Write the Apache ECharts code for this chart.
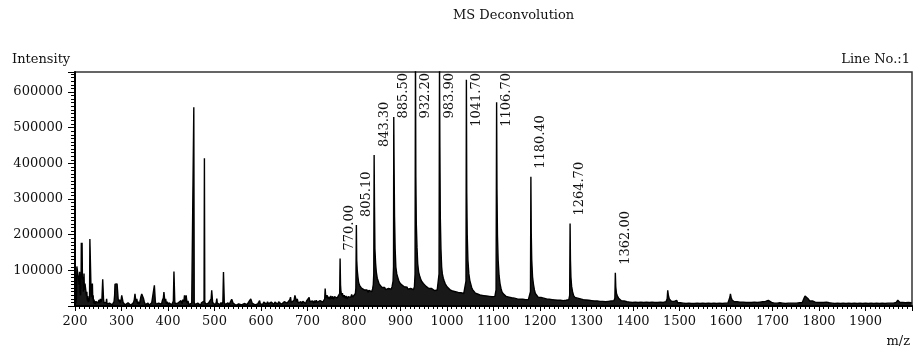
<!DOCTYPE html>
<html lang="en">

<head>
    <title>MS Deconvolution</title>
    <meta charset="UTF-8">
    <script src="https://cdn.jsdelivr.net/npm/echarts@6.0.0/dist/echarts.min.js"></script>
    <style>
        html, body { margin: 0; padding: 0; background: #fff; }
        #spectrum { width: 916px; height: 354px; }
    </style>
</head>

<body>
    <div id="spectrum"></div>

    <script>
        // profile spectrum, [m/z, intensity]
        var lowMassProfile = [
            [200, 5000], [200.8, 44000], [201.6, 8000], [203, 20000], [204, 111000], [205, 106000], [206, 111000],
            [207, 108000], [208, 111000], [209, 60000], [210, 96000], [211, 40000], [212, 30000], [213, 60000],
            [213.6, 177000], [214.4, 170000], [215.2, 177000], [216, 80000], [217, 72000], [218, 40000], [219.4, 91000],
            [220.2, 45000], [221.5, 63000], [222.5, 58000], [223.7, 64000], [224.5, 30000], [225.5, 40000], [226.5, 15000],
            [227.5, 28000], [228.5, 10000], [229.5, 22000], [230.5, 12000], [231.3, 30000], [232, 188000], [232.8, 186000],
            [233.8, 189000], [234.6, 40000], [235.5, 25000], [236.6, 48000], [237.4, 63000], [238.2, 20000], [239, 30000],
            [240, 8000], [241, 18000], [242, 6000], [243, 14000], [244, 5000], [245.5, 12000], [247, 7000], [248.5, 16000],
            [250, 9000], [251.5, 17000], [253, 8000], [254.5, 20000], [256, 11000], [258, 22000], [259.6, 75000],
            [260.6, 76000], [261.4, 18000], [262.5, 9000], [264, 14000], [265.5, 4000], [267, 10000], [268, 20000],
            [269, 5000], [270.5, 9000], [272, 3000], [274, 8000], [276, 4000], [278, 10000], [280, 3000], [282, 7000],
            [284, 12000], [285.2, 30000], [286, 61000], [287.5, 60000], [289, 58000], [290.5, 62000], [292, 60000],
            [292.8, 20000], [294, 12000], [295.5, 18000], [297, 8000], [298.5, 12000], [299.5, 20000], [300.5, 30000],
            [301.5, 28000], [302.6, 30000], [303.4, 10000], [305, 5000], [306, 12000], [308, 3000], [310, 8000],
            [312, 2000], [314, 9000], [316, 4000], [318, 6000], [320, 2000], [322, 7000], [324, 3000], [326, 10000],
            [327.5, 18000], [329, 34000], [330, 30000], [331, 12000], [333, 20000], [334.5, 6000], [336, 12000],
            [338, 4000], [340, 14000], [341.5, 25000], [343.5, 34000], [345, 30000], [346, 33000], [347.5, 20000],
            [349, 12000], [351, 4000], [353, 9000], [355, 3000], [357, 8000], [359, 2000], [361, 7000], [363, 3000],
            [365, 9000], [367, 4000], [369, 12000], [370.7, 58000], [371.8, 56000], [372.8, 12000], [374, 5000],
            [376, 10000], [378, 3000], [380, 8000], [382, 3000], [384, 12000], [386, 5000], [388, 16000], [390, 22000],
            [391.2, 39000], [392.2, 37000], [393.2, 14000], [395, 20000], [396.5, 6000], [398, 12000], [400, 3000],
            [402, 9000], [404, 4000], [406, 10000], [408, 3000], [410, 8000], [411.5, 14000], [412.8, 97000],
            [413.8, 97000], [414.6, 12000], [416, 6000], [418, 11000], [420, 3000], [422, 9000], [424, 4000],
            [426, 10000], [428, 15000], [430, 6000], [432, 18000], [434, 12000], [435.5, 30000], [436.7, 28000],
            [437.6, 12000], [439, 30000], [440, 25000], [441, 8000], [443, 14000], [445, 4000], [447, 9000], [449, 3000],
            [451, 8000], [453, 4000], [454.6, 12000], [455.5, 557000], [456.4, 10000], [458, 4000], [460, 9000],
            [462, 3000], [464, 8000], [466, 3000], [468, 7000], [470, 2000], [472, 9000], [474, 4000], [476, 10000],
            [477.5, 14000], [478.3, 414000], [479.1, 12000], [481, 5000], [483, 10000], [485, 3000], [487, 8000],
            [489, 4000], [491, 12000], [492.8, 20000], [494, 44000], [495, 40000], [496, 10000], [498, 5000],
            [500, 9000], [502, 3000], [504, 12000], [505, 21000], [506, 8000], [508, 3000], [510, 9000], [512, 4000],
            [514, 10000], [516, 3000], [518, 12000], [519.3, 95000], [520.3, 95000], [521.1, 10000], [523, 4000],
            [525, 8000], [527, 3000], [529, 9000], [531, 2000], [533, 8000], [535, 12000], [537, 19000], [538.5, 20000],
            [540, 8000], [542, 3000], [544, 8000], [546, 2000], [548, 7000], [550, 3000], [552, 6000], [554, 2000],
            [556, 8000], [558, 3000], [560, 6000], [562, 2000], [564, 7000], [566, 3000], [568, 9000], [570, 4000],
            [572, 8000], [574, 12000], [576, 16000], [578, 20000], [579.5, 18000], [581, 8000], [583, 4000],
            [585, 8000], [587, 3000], [589, 7000], [591, 2000], [593, 6000], [595, 10000], [597, 15000],
            [598.5, 6000], [600, 3000]
        ];

        var midMassProfile = [
            [602, 9000], [604, 5000], [606, 11000], [608, 6000], [610, 10000], [612, 5000], [614, 12000], [616, 6000],
            [618, 10000], [620, 5000], [622, 11000], [624, 6000], [626, 9000], [628, 4000], [630, 11000], [632, 6000],
            [634, 10000], [636, 5000], [638, 12000], [640, 7000], [642, 11000], [644, 5000], [646, 10000], [648, 6000],
            [650, 12000], [652, 7000], [654, 14000], [656, 8000], [658, 13000], [660, 7000], [662, 18000],
            [663.5, 25000], [665, 10000], [667, 14000], [669, 7000], [671, 16000], [673, 30000], [674.5, 22000],
            [676, 12000], [678, 20000], [680, 9000], [682, 14000], [684, 7000], [686, 12000], [688, 6000],
            [690, 13000], [692, 8000], [694, 12000], [696, 7000], [698, 14000], [700, 9000], [702, 18000],
            [703.5, 24000], [705, 12000], [707, 16000], [709, 9000], [711, 14000], [713, 8000], [715, 15000],
            [717, 9000], [719, 16000], [721, 10000], [723, 14000], [725, 8000], [727, 15000], [729, 10000],
            [731, 17000], [733, 11000], [735, 16000], [737, 20000], [738, 49000], [739, 30000], [740, 22000],
            [742, 30000], [744, 20000], [746, 26000], [748, 18000], [750, 28000], [752, 20000], [754, 27000],
            [756, 19000], [758, 26000], [760, 21000], [762, 30000], [764, 22000], [766, 28000], [768, 25000],
            [769.2, 35000], [770.1, 133000], [771, 60000], [772, 40000], [773.5, 30000], [775, 36000], [777, 24000],
            [779, 30000], [781, 22000], [783, 28000], [785, 20000], [787, 26000], [789, 22000], [791, 28000],
            [793, 24000], [795, 32000], [797, 25000], [799, 30000], [801, 26000], [803, 35000], [804, 50000]
        ];

        var envelopeProfile = [
            [805.1, 227000], [805.9, 128000], [807, 100000], [808.5, 81000], [810, 65000], [812, 58000], [814, 53000],
            [816, 50000], [818, 49000], [820, 53000], [822, 45000], [824, 48000], [826, 40000], [828, 45000],
            [830, 38000], [832, 44000], [834, 40000], [836, 45000], [838, 40000], [840, 48000], [841.5, 60000],
            [842.5, 90000],
            [843.3, 423000], [844.1, 278000], [845, 160000], [846.5, 119000], [848, 95000], [850, 78000],
            [852, 70000], [854, 62000], [856, 58000], [858, 62000], [860, 52000], [862, 56000], [864, 48000],
            [866, 52000], [868, 46000], [870, 50000], [872, 44000], [874, 49000], [876, 45000], [878, 52000],
            [880, 47000], [882, 55000], [884, 70000], [885, 110000],
            [885.5, 530000], [886.3, 381000], [887.2, 250000], [888.5, 160000], [890, 109000], [892, 90000],
            [894, 81000], [896, 72000], [898, 66000], [900, 63000], [902, 60000], [904, 58000], [906, 62000],
            [908, 54000], [910, 56000], [912, 50000], [914, 53000], [916, 47000], [918, 50000], [920, 45000],
            [922, 49000], [924, 44000], [926, 48000], [928, 46000], [930, 55000], [931.3, 90000],
            [932.2, 720000], [933, 362000], [934, 230000], [935.5, 165000], [937, 119000], [939, 95000],
            [941, 85000], [943, 77000], [945, 70000], [947, 65000], [949, 63000], [951, 58000], [953, 60000],
            [955, 55000], [957, 52000], [959, 54000], [961, 49000], [963, 51000], [965, 46000], [967, 49000],
            [969, 44000], [971, 47000], [973, 43000], [975, 46000], [977, 42000], [979, 45000], [981, 50000],
            [982.9, 90000],
            [983.9, 690000], [984.7, 446000], [985.6, 250000], [987, 160000], [988.5, 109000], [990, 90000],
            [992, 78000], [994, 70000], [996, 63000], [998, 58000], [1000, 54000], [1003, 50000], [1006, 46000],
            [1009, 44000], [1012, 42000], [1015, 44000], [1018, 40000], [1021, 42000], [1024, 38000],
            [1027, 40000], [1030, 37000], [1033, 39000], [1036, 35000], [1039, 40000], [1040.8, 70000],
            [1041.7, 634000], [1042.5, 316000], [1043.5, 200000], [1045, 128000], [1047, 90000], [1049, 72000],
            [1051, 62000], [1053, 52000], [1055, 46000], [1058, 42000], [1061, 36000], [1064, 38000], [1067, 33000],
            [1070, 35000], [1073, 30000], [1076, 33000], [1079, 29000], [1082, 32000], [1085, 28000], [1088, 31000],
            [1091, 27000], [1094, 30000], [1097, 26000], [1100, 29000], [1103, 27000], [1105.5, 45000],
            [1106.7, 571000], [1107.5, 325000], [1108.5, 200000], [1110, 128000], [1112, 85000], [1114, 63000],
            [1116, 50000], [1118, 40000], [1121, 34000], [1124, 30000], [1127, 27000], [1130, 29000], [1133, 25000],
            [1136, 27000], [1139, 23000], [1142, 26000], [1145, 22000], [1148, 24000], [1151, 20000], [1154, 23000],
            [1157, 19000], [1160, 22000], [1163, 19000], [1166, 21000], [1169, 18000], [1172, 20000], [1175, 18000],
            [1178, 22000], [1179.5, 40000],
            [1180.4, 362000], [1181.2, 204000], [1182.2, 130000], [1184, 81000], [1186, 60000], [1188, 45000],
            [1190, 35000], [1193, 30000], [1196, 25000], [1199, 22000], [1202, 24000], [1205, 20000], [1208, 22000],
            [1211, 18000], [1214, 20000], [1217, 17000], [1220, 19000], [1223, 16000], [1226, 18000], [1229, 15000],
            [1232, 17000], [1235, 14000], [1238, 16000], [1241, 14000], [1244, 16000], [1247, 13000], [1250, 15000],
            [1253, 13000], [1256, 16000], [1259, 14000], [1262, 18000], [1263.8, 30000],
            [1264.7, 231000], [1265.5, 128000], [1266.5, 81000], [1268, 55000], [1270, 40000], [1272, 30000],
            [1275, 24000], [1278, 20000], [1281, 22000], [1284, 18000], [1287, 20000], [1290, 16000], [1293, 18000],
            [1296, 15000], [1299, 17000], [1302, 14000], [1305, 16000], [1308, 13000], [1311, 15000], [1314, 12000],
            [1317, 14000], [1320, 11000], [1323, 14000], [1326, 11000], [1329, 13000], [1332, 10000], [1335, 13000],
            [1338, 10000], [1341, 12000], [1344, 10000], [1347, 13000], [1350, 10000], [1353, 14000], [1356, 11000],
            [1359, 15000], [1361, 22000],
            [1362, 93000], [1363, 53000], [1364.5, 35000], [1366.5, 28000], [1369, 22000], [1372, 18000],
            [1375, 15000], [1378, 12000], [1381, 14000], [1384, 10000], [1387, 12000], [1390, 9000], [1393, 11000],
            [1396, 8000], [1399, 10000]
        ];

        var highMassProfile = [
            [1402, 8000], [1405, 11000], [1408, 7000], [1411, 10000], [1414, 7000], [1417, 11000], [1420, 8000],
            [1423, 10000], [1426, 7000], [1429, 11000], [1432, 8000], [1435, 10000], [1438, 7000], [1441, 11000],
            [1444, 8000], [1447, 10000], [1450, 7000], [1453, 10000], [1456, 8000], [1459, 11000], [1462, 7000],
            [1465, 10000], [1468, 8000], [1471, 12000], [1473.5, 20000], [1474.7, 44000], [1476, 30000],
            [1478, 20000], [1480, 16000], [1483, 13000], [1486, 11000], [1489, 13000], [1492, 10000], [1494, 16000],
            [1496, 9000], [1499, 12000], [1502, 9000], [1505, 11000], [1508, 8000], [1511, 10000], [1514, 7000],
            [1517, 10000], [1520, 8000], [1523, 10000], [1526, 7000], [1529, 9000], [1532, 7000], [1535, 10000],
            [1538, 8000], [1541, 9000], [1544, 7000], [1547, 10000], [1550, 8000], [1553, 9000], [1556, 7000],
            [1559, 10000], [1562, 8000], [1565, 9000], [1568, 7000], [1571, 10000], [1574, 8000], [1577, 9000],
            [1580, 7000], [1583, 10000], [1586, 8000], [1589, 9000], [1592, 7000], [1595, 10000], [1598, 8000],
            [1601, 9000], [1604, 8000], [1607, 12000], [1608.5, 25000], [1609.5, 34000], [1611, 24000],
            [1613, 17000], [1615, 14000], [1618, 12000], [1621, 10000], [1624, 12000], [1627, 9000], [1630, 11000],
            [1632, 15000], [1634, 9000], [1637, 11000], [1640, 8000], [1643, 10000], [1646, 8000], [1649, 10000],
            [1652, 7000], [1655, 10000], [1658, 8000], [1661, 11000], [1664, 8000], [1667, 10000], [1670, 8000],
            [1673, 11000], [1676, 9000], [1679, 12000], [1682, 9000], [1685, 13000], [1688, 11000], [1691, 16000],
            [1693, 19000], [1695, 14000], [1698, 10000], [1701, 12000], [1704, 8000], [1707, 11000], [1710, 8000],
            [1713, 13000], [1716, 9000], [1719, 11000], [1722, 8000], [1725, 10000], [1728, 7000], [1731, 10000],
            [1734, 8000], [1737, 11000], [1740, 8000], [1743, 10000], [1746, 8000], [1749, 11000], [1752, 8000],
            [1755, 10000], [1758, 9000], [1761, 12000], [1764, 10000], [1766, 16000], [1768, 22000], [1770, 28000],
            [1772, 30000], [1774, 24000], [1776, 21000], [1778, 17000], [1780, 14000], [1783, 12000], [1786, 14000],
            [1789, 10000], [1792, 11000], [1795, 8000], [1798, 10000], [1801, 8000], [1804, 10000], [1807, 7000],
            [1810, 10000], [1813, 8000], [1816, 11000], [1819, 14000], [1822, 9000], [1825, 11000], [1828, 8000],
            [1831, 10000], [1834, 7000], [1837, 10000], [1840, 8000], [1843, 9000], [1846, 7000], [1849, 10000],
            [1852, 8000], [1855, 9000], [1858, 7000], [1861, 10000], [1864, 8000], [1867, 9000], [1870, 7000],
            [1873, 10000], [1876, 8000], [1879, 9000], [1882, 7000], [1885, 10000], [1888, 8000], [1891, 9000],
            [1894, 7000], [1897, 10000], [1900, 8000], [1903, 9000], [1906, 7000], [1909, 10000], [1912, 8000],
            [1915, 9000], [1918, 7000], [1921, 10000], [1924, 8000], [1927, 9000], [1930, 7000], [1933, 10000],
            [1936, 8000], [1939, 9000], [1942, 7000], [1945, 10000], [1948, 8000], [1951, 9000], [1954, 8000],
            [1957, 10000], [1960, 8000], [1963, 11000], [1966, 10000], [1968, 14000], [1969.5, 16000],
            [1971, 12000], [1974, 10000], [1977, 8000], [1980, 10000], [1983, 8000], [1986, 9000], [1989, 7000],
            [1992, 10000], [1995, 8000], [1998, 9000], [2000, 8000]
        ];

        // labelled deconvolution peaks
        var peakLabelMz = [770.00, 805.10, 843.30, 885.50, 932.20, 983.90, 1041.70, 1106.70, 1180.40, 1264.70, 1362.00];
        var peakLabelHeight = [133000, 227000, 423000, 530000, 720000, 690000, 634000, 571000, 362000, 231000, 93000];

        var xMin = 200, xMax = 2000, xStep = 100;
        var yMin = 0, yMax = 656000, yStep = 100000;

        var serif = '"DejaVu Serif", "Liberation Serif", serif';
        var ink = '#111';

        var profile = lowMassProfile.concat(midMassProfile, envelopeProfile, highMassProfile);

        var labelData = [];
        for (var i = 0; i < peakLabelMz.length; i++) {
            labelData.push([peakLabelMz[i], peakLabelHeight[i]]);
        }

        var measureCtx = document.createElement('canvas').getContext('2d');
        measureCtx.font = '13px ' + serif;

        var option = {
            backgroundColor: '#fff',
            animation: false,
            title: [
                { text: 'MS Deconvolution', left: 453, top: 9, padding: 0,
                  textStyle: { fontFamily: serif, fontSize: 13, fontWeight: 'normal', color: ink } },
                { text: 'Intensity', left: 12, top: 53, padding: 0,
                  textStyle: { fontFamily: serif, fontSize: 13, fontWeight: 'normal', color: ink } },
                { text: 'Line No.:1', right: 6, top: 53, padding: 0,
                  textStyle: { fontFamily: serif, fontSize: 13, fontWeight: 'normal', color: ink } },
                { text: 'm/z', right: 6, top: 335, padding: 0,
                  textStyle: { fontFamily: serif, fontSize: 13, fontWeight: 'normal', color: ink } }
            ],
            grid: {
                left: 75, right: 4, top: 72, bottom: 48,
                show: true, borderColor: '#333', borderWidth: 1.5, backgroundColor: '#fff'
            },
            xAxis: {
                type: 'value',
                min: xMin, max: xMax, interval: xStep,
                axisLine: { lineStyle: { color: '#000', width: 2 } },
                axisTick: { length: 5, lineStyle: { color: '#000' } },
                minorTick: { show: true, splitNumber: 10, length: 3, lineStyle: { color: '#000' } },
                splitLine: { show: false },
                axisLabel: {
                    margin: 9, color: ink, fontFamily: serif, fontSize: 13,
                    formatter: function (v) { return v >= xMax ? '' : String(v); }
                }
            },
            yAxis: {
                type: 'value',
                min: yMin, max: yMax, interval: yStep,
                axisLine: { show: true, lineStyle: { color: '#000', width: 2 } },
                axisTick: { show: true, length: 7, lineStyle: { color: '#000' } },
                minorTick: { show: true, splitNumber: 10, length: 4, lineStyle: { color: '#000' } },
                splitLine: { show: false },
                axisLabel: {
                    margin: 12, color: ink, fontFamily: serif, fontSize: 13,
                    formatter: function (v) { return (v === 0 || v % yStep !== 0) ? '' : String(v); }
                }
            },
            series: [
                {
                    type: 'line',
                    data: profile,
                    showSymbol: false,
                    sampling: 'none',
                    lineStyle: { color: '#000', width: 1.4 },
                    areaStyle: { color: '#000', opacity: 0.9 },
                    clip: true
                },
                {
                    type: 'custom',
                    data: labelData,
                    clip: false,
                    renderItem: function (params, api) {
                        var p = api.coord([api.value(0), api.value(1)]);
                        var txt = peakLabelMz[params.dataIndex].toFixed(2);
                        var w = measureCtx.measureText(txt).width;
                        var plotTop = params.coordSys.y + 1;
                        var y = p[1] - 8;
                        if (y - w < plotTop) {
                            y = plotTop + w;
                        }
                        return {
                            type: 'text',
                            x: p[0] + 10,
                            y: y,
                            rotation: Math.PI / 2,
                            style: {
                                text: txt,
                                fill: ink,
                                font: '13px ' + serif,
                                align: 'left',
                                verticalAlign: 'middle'
                            }
                        };
                    }
                }
            ]
        };

        var chart = echarts.init(document.getElementById('spectrum'), null, { renderer: 'canvas' });
        chart.setOption(option);
    </script>
</body>

</html>
